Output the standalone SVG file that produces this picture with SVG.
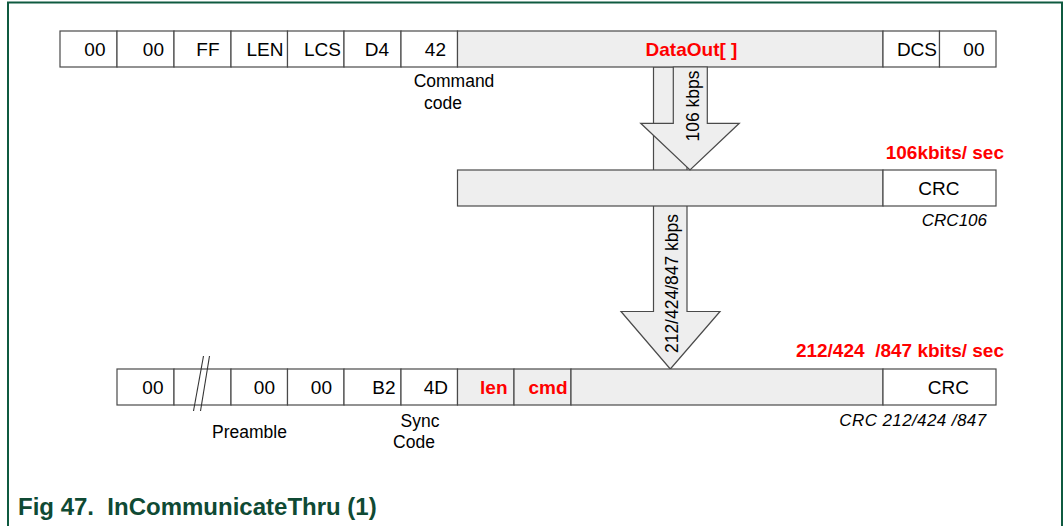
<svg xmlns="http://www.w3.org/2000/svg" width="1064" height="526" viewBox="0 0 1064 526">
<style>
.c{stroke:#4a4a4a;stroke-width:1.2;fill:#ffffff}
.g{stroke:#4a4a4a;stroke-width:1.2;fill:#eeeeee}
.t{font-family:"Liberation Sans",Arial,sans-serif;font-size:19px;fill:#000;text-anchor:end}
.r{font-family:"Liberation Sans",Arial,sans-serif;font-weight:bold;font-size:19px;fill:#ff0000}
.l{font-family:"Liberation Sans",Arial,sans-serif;font-size:17.5px;fill:#000}
.i{font-family:"Liberation Sans",Arial,sans-serif;font-style:italic;font-size:17px;fill:#000;text-anchor:end}
.a{stroke:#4a4a4a;stroke-width:1.2;fill:#eeeeee}
.at{font-family:"Liberation Sans",Arial,sans-serif;font-size:17.5px;fill:#000;text-anchor:middle}
</style>
<rect x="0" y="0" width="1064" height="526" fill="#ffffff"/>
<path d="M8,526 V2.5 H1062 V526" fill="none" stroke="#0f5a40" stroke-width="2"/>

<g id="connectors">
  <polygon id="arrow-212" class="a" points="653.5,67 687,67 687,311.5 720,311.5 670.3,369 621,311.5 653.5,311.5"/>
</g>

<g id="top-frame">
  <g id="t-00a"><rect class="c" x="60" y="31" width="57" height="36"/><text class="t" x="105.5" y="56">00</text></g>
  <g id="t-00b"><rect class="c" x="117" y="31" width="57" height="36"/><text class="t" x="164" y="56">00</text></g>
  <g id="t-ff"><rect class="c" x="174" y="31" width="57" height="36"/><text class="t" x="219.5" y="56">FF</text></g>
  <g id="t-len"><rect class="c" x="231" y="31" width="56.5" height="36"/><text class="t" x="283.5" y="56">LEN</text></g>
  <g id="t-lcs"><rect class="c" x="287.5" y="31" width="56.5" height="36"/><text class="t" x="341" y="56">LCS</text></g>
  <g id="t-d4"><rect class="c" x="344" y="31" width="57" height="36"/><text class="t" x="389" y="56">D4</text></g>
  <g id="t-42"><rect class="c" x="401" y="31" width="56.5" height="36"/><text class="t" x="446" y="56">42</text></g>
  <g id="t-dataout"><rect class="g" x="457.5" y="31" width="425.5" height="36"/><text class="r" x="691.5" y="56" text-anchor="middle">DataOut[ ]</text></g>
  <g id="t-dcs"><rect class="c" x="883" y="31" width="56.5" height="36"/><text class="t" x="937" y="56">DCS</text></g>
  <g id="t-00c"><rect class="c" x="939.5" y="31" width="56.5" height="36"/><text class="t" x="984.5" y="56">00</text></g>
  <g id="lbl-command"><text class="l" x="454" y="87" text-anchor="middle">Command</text><text class="l" x="443" y="109" text-anchor="middle">code</text></g>
</g>

<g id="mid-frame">
  <g id="m-data"><rect class="g" x="457.5" y="170" width="425.5" height="36"/></g>
  <g id="m-crc"><rect class="c" x="883" y="170" width="113" height="36"/><text class="t" x="959.5" y="195">CRC</text></g>
  <text class="r" x="1004" y="158.5" text-anchor="end" font-size="20.5">106kbits/ sec</text>
  <text class="i" x="987" y="225.5">CRC106</text>
</g>

<g id="bottom-frame">
  <g id="b-00a"><rect class="c" x="117" y="369" width="57" height="36"/><text class="t" x="163.5" y="394">00</text></g>
  <g id="b-gap"><rect class="c" x="174" y="369" width="57" height="36"/>
    <line x1="203.5" y1="356" x2="193.5" y2="411" stroke="#333" stroke-width="1.1"/>
    <line x1="209.5" y1="356" x2="200.5" y2="411" stroke="#333" stroke-width="1.1"/></g>
  <g id="b-00b"><rect class="c" x="231" y="369" width="56.5" height="36"/><text class="t" x="275" y="394">00</text></g>
  <g id="b-00c"><rect class="c" x="287.5" y="369" width="56.5" height="36"/><text class="t" x="332" y="394">00</text></g>
  <g id="b-b2"><rect class="c" x="344" y="369" width="57" height="36"/><text class="t" x="395.5" y="394">B2</text></g>
  <g id="b-4d"><rect class="c" x="401" y="369" width="56.5" height="36"/><text class="t" x="448" y="394">4D</text></g>
  <g id="b-len"><rect class="g" x="457.5" y="369" width="56.5" height="36"/><text class="r" x="507.5" y="394" text-anchor="end">len</text></g>
  <g id="b-cmd"><rect class="g" x="514" y="369" width="57" height="36"/><text class="r" x="567.5" y="394" text-anchor="end">cmd</text></g>
  <g id="b-data"><rect class="g" x="571" y="369" width="312" height="36"/></g>
  <g id="b-crc"><rect class="c" x="883" y="369" width="113" height="36"/><text class="t" x="969" y="394">CRC</text></g>
  <text class="r" x="1004" y="356.5" text-anchor="end" font-size="20.5" xml:space="preserve">212/424  /847 kbits/ sec</text>
  <text class="i" x="986.5" y="425.5" font-size="17.5" letter-spacing="0.4">CRC 212/424 /847</text>
  <g id="lbl-preamble"><text class="l" x="249.5" y="437.5" text-anchor="middle">Preamble</text></g>
  <g id="lbl-sync"><text class="l" x="420" y="427" text-anchor="middle">Sync</text><text class="l" x="414" y="447.5" text-anchor="middle">Code</text></g>
</g>

<g id="connectors-top">
  <polygon id="arrow-106" class="a" points="673.3,67 707.3,67 707.3,123.3 739.3,123.3 690,170 640.7,123.3 673.3,123.3"/>
  <text class="at" transform="translate(698.5,106) rotate(-90)">106 kbps</text>
  <text class="at" transform="translate(677.5,283.5) rotate(-90)">212/424/847 kbps</text>
</g>

<text x="18" y="515" font-family="'Liberation Sans',Arial,sans-serif" font-weight="bold" font-size="24" fill="#0f4a34" xml:space="preserve">Fig 47.  InCommunicateThru (1)</text>
</svg>
